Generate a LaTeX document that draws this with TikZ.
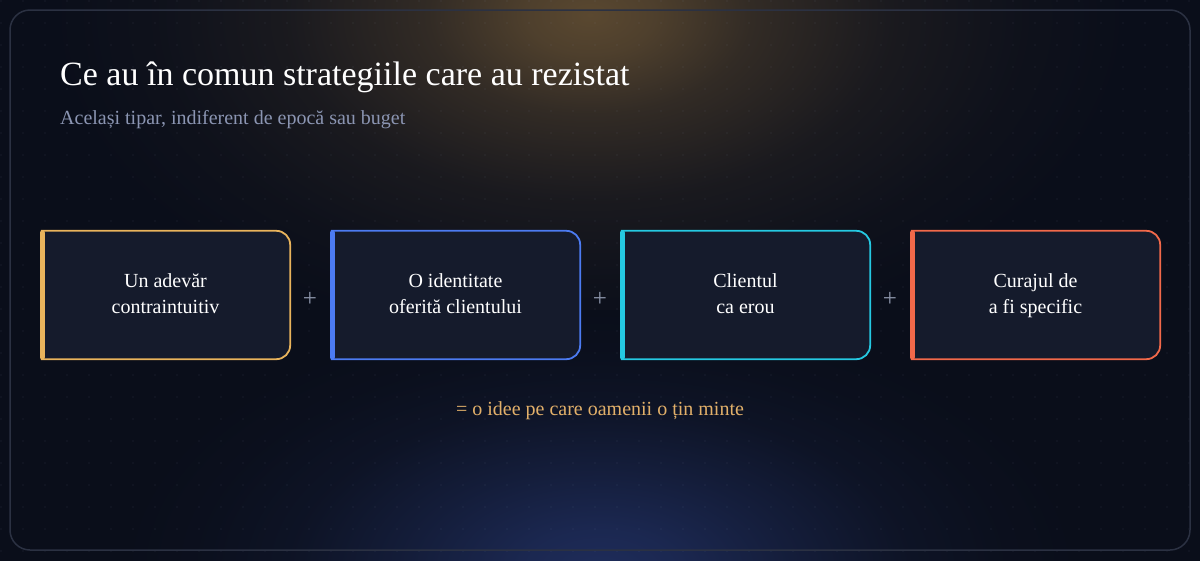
\documentclass[tikz,border=0pt]{standalone}
\usepackage{fontspec}
\setmainfont{Liberation Serif}
\usetikzlibrary{calc}
\definecolor{bg}{HTML}{0A0E1A}
\definecolor{glowA}{HTML}{5A4830}
\definecolor{glowB}{HTML}{1E2C5A}
\definecolor{dotc}{HTML}{A0B0D0}
\definecolor{panelc}{HTML}{2B3142}
\definecolor{boxfill}{HTML}{151B2C}
\definecolor{cA}{HTML}{E9B45C}
\definecolor{cB}{HTML}{4C7BF2}
\definecolor{cC}{HTML}{25C9E2}
\definecolor{cD}{HTML}{F2694A}
\definecolor{subc}{HTML}{8B95B2}
\definecolor{plusc}{HTML}{8A93A8}
\definecolor{goldtxt}{HTML}{E2B06A}
\pgfdeclareradialshading{goldglow}{\pgfpoint{0bp}{0bp}}{color(0bp)=(glowA); color(3bp)=(glowA!85!bg); color(7.5bp)=(glowA!50!bg); color(14bp)=(glowA!20!bg); color(20bp)=(glowA!6!bg); color(25bp)=(bg); color(50bp)=(bg)}
\pgfdeclareradialshading{blueglow}{\pgfpoint{0bp}{0bp}}{color(0bp)=(glowB); color(4bp)=(glowB!85!bg); color(10bp)=(glowB!50!bg); color(16bp)=(glowB!18!bg); color(21bp)=(glowB!5!bg); color(25bp)=(bg); color(50bp)=(bg)}
\tikzset{
  card/.style={minimum width=249pt, minimum height=128pt, fill=boxfill, rounded corners=14pt, inner sep=0pt, align=center, text=white, font=\fontsize{20}{26}\selectfont},
  plussign/.style={text=plusc, font=\fontsize{25}{28}\selectfont, inner sep=0pt},
  border/.style={line width=1.8pt, rounded corners=14pt},
  accent/.style={line width=5pt, line cap=round}
}
\begin{document}
\begin{tikzpicture}[x=1pt,y=-1pt]
\useasboundingbox (0,0) rectangle (1200,560);
\fill[bg] (-5,-5) rectangle (1205,565);
\begin{scope}
\clip (-5,-5) rectangle (1205,565);
\shade[shading=goldglow] (590,15) ellipse [x radius=540, y radius=330];
\shade[shading=blueglow] (600,570) ellipse [x radius=480, y radius=260];
\end{scope}
\begin{scope}[fill opacity=0.09]
\foreach \x in {1,23,...,1200} {
  \foreach \y in {1,23,...,560} {
    \fill[dotc] (\x,\y) circle (0.9);
  }
}
\end{scope}
\draw[panelc, line width=1.5pt, rounded corners=20pt] (10,10) rectangle (1190,550);

\node[anchor=base west, text=white, font=\fontsize{34}{40}\selectfont, inner sep=0pt] (title) at (60,85) {Ce au în comun strategiile care au rezistat};
\node[anchor=base west, text=subc, font=\fontsize{20}{24}\selectfont, inner sep=0pt] (sub) at (60,124) {Același tipar, indiferent de epocă sau buget};

\node[card] (b1) at (165.5,295) {\strut Un adevăr\\\strut contraintuitiv};
\node[card] (b2) at (455.5,295) {\strut O identitate\\\strut oferită clientului};
\node[card] (b3) at (745.5,295) {\strut Clientul\\\strut ca erou};
\node[card] (b4) at (1035.5,295) {\strut Curajul de\\\strut a fi specific};

\foreach \b/\c in {b1/cA,b2/cB,b3/cC,b4/cD} {
  \fill[boxfill] (\b.north west) rectangle ($(\b.south west)+(20,0)$);
  \draw[border,\c] (\b.north west) -- (\b.north east) -- (\b.south east) -- (\b.south west);
  \draw[accent,\c] ([xshift=1.5pt,yshift=-2pt]\b.north west) -- ([xshift=1.5pt,yshift=2pt]\b.south west);
}

\node[plussign] (p1) at (310,299) {+};
\node[plussign] (p2) at (600,299) {+};
\node[plussign] (p3) at (890,299) {+};

\node[text=goldtxt, font=\fontsize{20}{24}\selectfont, inner sep=0pt, anchor=base] (res) at (600,415) {= o idee pe care oamenii o țin minte};
\end{tikzpicture}
\end{document}
